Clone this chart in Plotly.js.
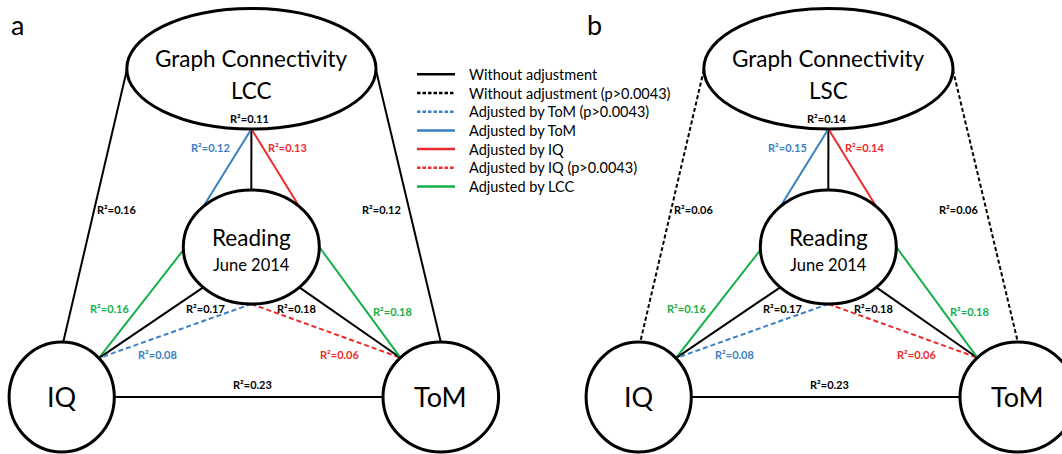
<!DOCTYPE html>
<html>
<head>
<meta charset="utf-8">
<script src="https://cdn.plot.ly/plotly-3.0.1.min.js"></script>
<style>html,body{margin:0;padding:0;background:#fff;}#chart{width:1062px;height:454px;}</style>
</head>
<body>
<div id="chart"></div>
<script>
// ---------------- DATA ----------------
const panelLetters = ['a', 'b'];
const connectivityMeasures = ['LCC', 'LSC'];
const legendLabels = ['Without adjustment', 'Without adjustment (p>0.0043)', 'Adjusted by ToM (p>0.0043)',
  'Adjusted by ToM', 'Adjusted by IQ', 'Adjusted by IQ (p>0.0043)', 'Adjusted by LCC'];
const legendTypes = ['plain', 'plainNS', 'tomNS', 'tom', 'iq', 'iqNS', 'lcc'];
const nodeIds = ['GC', 'Reading', 'IQ', 'ToM'];
const edgeFrom = ['GC', 'GC', 'GC', 'GC', 'GC', 'Reading', 'Reading', 'Reading', 'Reading', 'Reading', 'Reading', 'IQ'];
const edgeTo   = ['IQ', 'ToM', 'Reading', 'Reading', 'Reading', 'IQ', 'IQ', 'IQ', 'ToM', 'ToM', 'ToM', 'ToM'];
const edgeTypeA = ['plain', 'plain', 'plain', 'tom', 'iq', 'lcc', 'plain', 'tomNS', 'iqNS', 'plain', 'lcc', 'plain'];
const edgeTypeB = ['plainNS', 'plainNS', 'plain', 'tom', 'iq', 'lcc', 'plain', 'tomNS', 'iqNS', 'plain', 'lcc', 'plain'];
const r2A = [0.16, 0.12, 0.11, 0.12, 0.13, 0.16, 0.17, 0.08, 0.06, 0.18, 0.18, 0.23];
const r2B = [0.06, 0.06, 0.14, 0.15, 0.14, 0.16, 0.17, 0.08, 0.06, 0.18, 0.18, 0.23];

// ---------------- LAYOUT / STYLE ----------------
const FONT = 'Lato, "Open Sans", sans-serif';
const BLUE = '#3a7fc4', RED = '#ee2b2b', GREEN = '#16b04a';
const styles = {
  plain:   {color: '#000', dash: 'solid'},
  plainNS: {color: '#000', dash: '4px,2.5px'},
  tomNS:   {color: BLUE, dash: '5px,3px'},
  tom:     {color: BLUE, dash: 'solid'},
  iq:      {color: RED, dash: 'solid'},
  iqNS:    {color: RED, dash: '5px,3px'},
  lcc:     {color: GREEN, dash: 'solid'}
};
const panelOffset = [0, 577];
const nodeGeom = {
  GC:      {cx: 251.4, cy: 68.7, rx: 124.6, ry: 60.3},
  Reading: {cx: 251.3, cy: 247, rx: 68, ry: 57},
  IQ:      {cx: 61.7, cy: 397, rx: 52.6, ry: 55},
  ToM:     {cx: 440.8, cy: 397, rx: 57.8, ry: 55}
};
const fromAngle = [178.8, 1.2, 90, 90, 90, 177, 135, 90, 90, 45, 0, 0];
const toAngle = [-88.3, -90, -90, -135, -45, -45, -45, -45, -134.4, -134.4, -134.4, 180];
const labelPos = [[117, 209], [381.5, 209], [249.5, 118], [210, 147], [287.5, 147], [109.5, 308],
  [205.5, 308], [157.5, 354], [340, 354], [296.5, 308], [392, 311], [252, 384]];
const legendBox = {x0: 417, x1: 455, textX: 467, y0: 74.3, dy: 18.7};

function anchor(node, deg, off) {
  const g = nodeGeom[node], a = deg * Math.PI / 180;
  return [g.cx + off + g.rx * Math.cos(a), g.cy + g.ry * Math.sin(a)];
}

const traces = [];
const shapes = [];
const annotations = [];

panelLetters.forEach((letter, p) => {
  const off = panelOffset[p];
  const types = p === 0 ? edgeTypeA : edgeTypeB;
  const r2 = p === 0 ? r2A : r2B;
  edgeFrom.forEach((f, i) => {
    const s = anchor(f, fromAngle[i], off), e = anchor(edgeTo[i], toAngle[i], off);
    const st = styles[types[i]];
    traces.push({
      x: [s[0], e[0]], y: [s[1], e[1]], mode: 'lines', showlegend: false, hoverinfo: 'skip',
      line: {color: st.color, dash: st.dash, width: 2}
    });
    annotations.push({
      x: labelPos[i][0] + off, y: labelPos[i][1], xref: 'x', yref: 'y', showarrow: false,
      text: '<b>R²=' + r2[i].toFixed(2) + '</b>',
      font: {family: FONT, size: 11, color: st.color}, xanchor: 'center', yanchor: 'middle'
    });
  });
  nodeIds.forEach(n => {
    const g = nodeGeom[n];
    shapes.push({
      type: 'circle', xref: 'x', yref: 'y', layer: 'above',
      x0: g.cx + off - g.rx, x1: g.cx + off + g.rx, y0: g.cy - g.ry, y1: g.cy + g.ry,
      line: {color: '#000', width: 3}, fillcolor: '#fff'
    });
  });
  const t = (x, y, text, size) => annotations.push({x: x + off, y: y, xref: 'x', yref: 'y', showarrow: false,
    text: text, font: {family: FONT, size: size, color: '#000'}, xanchor: 'center', yanchor: 'middle'});
  t(251, 58, 'Graph Connectivity', 22.5);
  t(251, 90, connectivityMeasures[p], 22.5);
  t(251, 237, 'Reading', 22.5);
  t(251, 265, 'June 2014', 16.5);
  t(nodeGeom.IQ.cx, 396, 'IQ', 27);
  t(nodeGeom.ToM.cx, 396, 'ToM', 27);
  t(17, 24, letter, 27);
});

// legend key (drawn as a key panel)
legendTypes.forEach((lt, i) => {
  const y = legendBox.y0 + i * legendBox.dy;
  const st = styles[lt];
  traces.push({
    x: [legendBox.x0, legendBox.x1], y: [y, y], mode: 'lines', name: legendLabels[i], showlegend: false,
    hoverinfo: 'skip', line: {color: st.color, dash: lt.endsWith('NS') ? '3.5px,2px' : 'solid', width: 2.5}
  });
  annotations.push({x: legendBox.textX, y: y, xref: 'x', yref: 'y', showarrow: false, text: legendLabels[i],
    font: {family: FONT, size: 14.5, color: '#000'}, xanchor: 'left', yanchor: 'middle'});
});

const layout = {
  width: 1062, height: 454,
  margin: {l: 0, r: 0, t: 0, b: 0, pad: 0},
  paper_bgcolor: '#fff', plot_bgcolor: '#fff',
  xaxis: {range: [0, 1062], visible: false, fixedrange: true},
  yaxis: {range: [454, 0], visible: false, fixedrange: true},
  showlegend: false,
  shapes: shapes,
  annotations: annotations
};

Plotly.newPlot('chart', traces, layout, {displayModeBar: false, staticPlot: true});
</script>
</body>
</html>
